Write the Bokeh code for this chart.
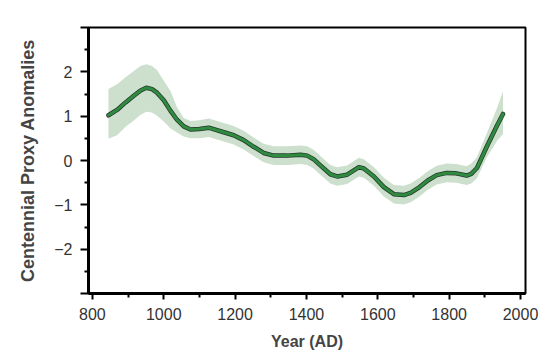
from bokeh.plotting import figure
from bokeh.models import FixedTicker, Range1d, ColumnDataSource
from bokeh.embed import file_html
from bokeh.resources import INLINE

years = [845, 869, 893, 916, 935, 951, 967, 981, 1000, 1019, 1037, 1056, 1075, 1100, 1126,
         1159, 1196, 1224, 1252, 1280, 1308, 1346, 1383, 1402, 1420, 1439, 1467, 1486, 1514,
         1547, 1561, 1589, 1617, 1645, 1673, 1692, 1717, 1740, 1765, 1793, 1820, 1849, 1862,
         1878, 1906, 1935, 1951]
values = [1.02, 1.14, 1.31, 1.46, 1.58, 1.64, 1.61, 1.53, 1.36, 1.12, 0.92, 0.77, 0.70, 0.71, 0.74,
          0.66, 0.57, 0.46, 0.31, 0.17, 0.11, 0.11, 0.13, 0.11, 0.03, -0.11, -0.31, -0.36, -0.32,
          -0.15, -0.18, -0.36, -0.60, -0.76, -0.78, -0.73, -0.60, -0.45, -0.33, -0.28, -0.29, -0.34, -0.30,
          -0.17, 0.32, 0.80, 1.05]
upper = [1.61, 1.72, 1.88, 2.02, 2.13, 2.17, 2.13, 2.04, 1.80, 1.57, 1.20, 0.96, 0.89, 0.91, 0.95,
         0.87, 0.78, 0.67, 0.52, 0.38, 0.32, 0.32, 0.34, 0.32, 0.24, 0.10, -0.10, -0.15, -0.11,
         0.06, 0.03, -0.15, -0.39, -0.55, -0.57, -0.52, -0.39, -0.24, -0.12, -0.07, -0.08, -0.13, -0.07,
         0.08, 0.62, 1.20, 1.57]
lower = [0.49, 0.57, 0.76, 0.90, 1.03, 1.10, 1.08, 1.01, 0.88, 0.72, 0.63, 0.54, 0.50, 0.50, 0.53,
         0.45, 0.36, 0.25, 0.10, -0.04, -0.10, -0.10, -0.08, -0.10, -0.18, -0.32, -0.52, -0.57, -0.53,
         -0.36, -0.39, -0.57, -0.81, -0.97, -0.99, -0.94, -0.81, -0.66, -0.54, -0.49, -0.50, -0.55, -0.52,
         -0.40, 0.08, 0.45, 0.60]

x_major = [800, 1000, 1200, 1400, 1600, 1800, 2000]
x_minor = [900, 1100, 1300, 1500, 1700, 1900]
y_major = [-3, -2, -1, 0, 1, 2, 3]
y_minor = [-2.5, -1.5, -0.5, 0.5, 1.5, 2.5]
y_labels = {-3: "", -2: "\u22122", -1: "\u22121", 0: "0", 1: "1", 2: "2", 3: ""}

src = ColumnDataSource(dict(x=years, y=values, up=upper, lo=lower))

p = figure(width=548, height=355, output_backend="svg", toolbar_location=None,
           x_range=Range1d(789, 2014), y_range=Range1d(-3, 3),
           min_border_left=88, min_border_right=23, min_border_top=27, min_border_bottom=62)

p.varea(x="x", y1="lo", y2="up", source=src, fill_color="#cddfcd", fill_alpha=1.0)
p.line(x="x", y="y", source=src, line_color="#26362b", line_width=4.5, line_join="round", line_cap="round")
p.line(x="x", y="y", source=src, line_color="#2e8b3f", line_width=3, line_join="round", line_cap="round")

p.grid.visible = False
p.outline_line_color = "black"
p.outline_line_width = 2
p.background_fill_color = "white"

xa = p.xaxis[0]
xa.ticker = FixedTicker(ticks=x_major, minor_ticks=x_minor)
xa.axis_label = "Year (AD)"
xa.axis_line_width = 3
xa.major_tick_line_width = 2
xa.minor_tick_line_width = 2
xa.major_tick_out = 6
xa.major_tick_in = 0
xa.minor_tick_out = 4
xa.minor_tick_in = 0
xa.major_label_text_font = "Liberation Sans"
xa.major_label_text_font_size = "16px"
xa.major_label_text_color = "#333333"
xa.major_label_standoff = 8
xa.axis_label_text_font = "Liberation Sans"
xa.axis_label_text_font_style = "bold"
xa.axis_label_text_font_size = "16px"
xa.axis_label_standoff = 10

ya = p.yaxis[0]
ya.ticker = FixedTicker(ticks=y_major, minor_ticks=y_minor)
ya.major_label_overrides = y_labels
ya.axis_label = "Centennial Proxy Anomalies"
ya.axis_line_width = 3
ya.major_tick_line_width = 2
ya.minor_tick_line_width = 2
ya.major_tick_out = 8
ya.major_tick_in = 0
ya.minor_tick_out = 4
ya.minor_tick_in = 0
ya.major_label_text_font = "Liberation Sans"
ya.major_label_text_font_size = "16px"
ya.major_label_text_color = "#333333"
ya.major_label_standoff = 8
ya.axis_label_text_font = "Liberation Sans"
ya.axis_label_text_font_style = "bold"
ya.axis_label_text_font_size = "18px"
ya.axis_label_standoff = 13

open("out.html", "w").write(file_html(p, INLINE))
